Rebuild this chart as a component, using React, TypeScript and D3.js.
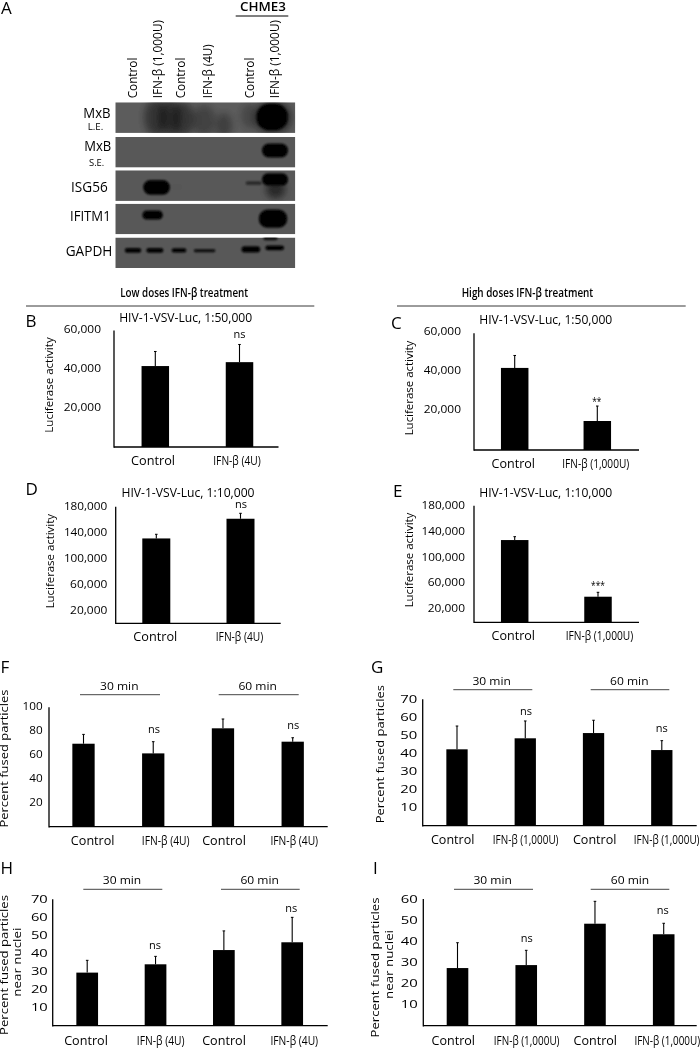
import React from "react";
import * as d3 from "d3";

// ---------- data ----------
const laneLabels = ["Control", "IFN-β (1,000U)", "Control", "IFN-β (4U)", "Control", "IFN-β (1,000U)"];
const blotRows = ["MxB L.E.", "MxB S.E.", "ISG56", "IFITM1", "GAPDH"];
// row, lane, half width (lanes), vertical centre (row fraction), half height (row fraction), darkness
const blotBands: [number, number, number, number, number, number][] = [
  [0, 0.82, 0.42, 0.5, 0.6, 0.42],
  [0, 1.3, 0.4, 0.5, 0.6, 0.42],
  [0, 1.75, 0.42, 0.55, 0.55, 0.4],
  [0, 2.5, 0.4, 0.6, 0.5, 0.28],
  [0, 3.2, 0.3, 0.75, 0.4, 0.3],
  [0, 4.1, 0.3, 0.45, 0.4, 0.22],
  [0, 4.92, 0.66, 0.5, 0.52, 0.5],
  [0, 4.9, 0.55, 0.48, 0.43, 1],
  [1, 5.0, 0.46, 0.44, 0.23, 1],
  [2, 0.83, 0.47, 0.56, 0.24, 1],
  [2, 5.02, 0.34, 0.62, 0.3, 0.55],
  [2, 5.0, 0.46, 0.3, 0.2, 1],
  [2, 4.25, 0.28, 0.42, 0.05, 0.6],
  [2, 1.55, 0.15, 0.55, 0.04, 0.12],
  [3, 0.69, 0.36, 0.37, 0.15, 1],
  [3, 4.93, 0.5, 0.49, 0.3, 1],
  [4, 0, 0.29, 0.42, 0.08, 1],
  [4, 0.77, 0.3, 0.42, 0.08, 1],
  [4, 1.62, 0.26, 0.42, 0.07, 1],
  [4, 2.52, 0.38, 0.43, 0.05, 0.9],
  [4, 4.15, 0.33, 0.39, 0.1, 1],
  [4, 4.99, 0.33, 0.34, 0.08, 1],
  [4, 4.84, 0.25, 0.03, 0.06, 0.85],
];

const bLabels = ["Control", "IFN-β (4U)"];
const bValues = [41700, 43700];
const bErrors = [49200, 52800];
const bTicks = [20000, 40000, 60000];
const bSig = ["", "ns"];

const dLabels = ["Control", "IFN-β (4U)"];
const dValues = [131000, 161400];
const dErrors = [137400, 169800];
const dTicks = [20000, 60000, 100000, 140000, 180000];
const dSig = ["", "ns"];

const cLabels = ["Control", "IFN-β (1,000U)"];
const cValues = [42200, 14900];
const cErrors = [48600, 22600];
const cTicks = [20000, 40000, 60000];
const cSig = ["", "**"];

const eLabels = ["Control", "IFN-β (1,000U)"];
const eValues = [127000, 39500];
const eErrors = [132200, 46300];
const eTicks = [20000, 60000, 100000, 140000, 180000];
const eSig = ["", "***"];

const fLabels = ["Control", "IFN-β (4U)", "Control", "IFN-β (4U)"];
const fValues = [69.5, 61.4, 82.4, 71.2];
const fErrors = [77.3, 71.2, 90.2, 74.5];
const fTicks = [20, 40, 60, 80, 100];
const fSig = ["", "ns", "", "ns"];

const gLabels = ["Control", "IFN-β (1,000U)", "Control", "IFN-β (1,000U)"];
const gValues = [42.3, 48.4, 51.3, 41.9];
const gErrors = [55.2, 58, 58.4, 47.1];
const gTicks = [10, 20, 30, 40, 50, 60, 70];
const gSig = ["", "ns", "", "ns"];

const hLabels = ["Control", "IFN-β (4U)", "Control", "IFN-β (4U)"];
const hValues = [29.4, 34, 41.9, 46.2];
const hErrors = [36.2, 38.4, 52.5, 60];
const hTicks = [10, 20, 30, 40, 50, 60, 70];
const hSig = ["", "ns", "", "ns"];

const iLabels = ["Control", "IFN-β (1,000U)", "Control", "IFN-β (1,000U)"];
const iValues = [27.3, 28.7, 48.3, 43.3];
const iErrors = [39.3, 35.7, 58.9, 48.5];
const iTicks = [10, 20, 30, 40, 50, 60];
const iSig = ["", "ns", "", "ns"];

const timeLabels = ["30 min", "60 min"];
const lumiTitle50 = "HIV-1-VSV-Luc, 1:50,000";
const lumiTitle10 = "HIV-1-VSV-Luc, 1:10,000";

// ---------- layout ----------
const FONT = "'Open Sans', sans-serif";
const INK = "#000";

type TProps = {
  x: number; y: number; size?: number; len?: number; anchor?: string; weight?: number; rot?: boolean; children: React.ReactNode;
};
function T({ x, y, size = 12, len, anchor = "middle", weight = 400, rot = false, children }: TProps) {
  return (
    <text
      x={x}
      y={y}
      fontFamily={FONT}
      fontSize={size}
      fontWeight={weight}
      fill={INK}
      textAnchor={anchor}
      textLength={len}
      lengthAdjust={len ? "spacingAndGlyphs" : undefined}
      transform={rot ? `rotate(-90 ${x} ${y})` : undefined}
    >
      {children}
    </text>
  );
}

type Panel = {
  labels: string[]; values: number[]; errors: number[]; ticks: number[]; sig: string[]; max: number;
  axisX: number; top: number; base: number; right: number; c0: number; c1: number; barW: number;
  tickRight: number; tickLen: number; tickSize: number; tickDy: number;
  labelX: number[]; labelY: number; labelLens: number[];
  sigGap: number[]; sigDx: number[];
  yTitle: { text: string; x: number; y: number; len: number }[];
  letter: { text: string; x: number; y: number };
  title?: { text: string; x: number; y: number };
  time?: { x0: number[]; x1: number[]; y: number; tx: number[]; ty: number };
};

const COMMA = d3.format(",");

function BarPanel({ p }: { p: Panel }) {
  const y = d3.scaleLinear().domain([0, p.max]).range([p.base, p.top]);
  const x = d3.scaleLinear().domain([0, p.labels.length - 1]).range([p.c0, p.c1]);
  return (
    <g>
      <T x={p.letter.x} y={p.letter.y} size={17} anchor="start">{p.letter.text}</T>
      {p.title && <T x={p.title.x} y={p.title.y} size={12.5} len={133}>{p.title.text}</T>}
      {p.time && timeLabels.map((t, i) => (
        <g key={t}>
          <line x1={p.time!.x0[i]} x2={p.time!.x1[i]} y1={p.time!.y} y2={p.time!.y} stroke="#444" strokeWidth={1} />
          <T x={p.time!.tx[i]} y={p.time!.ty} size={11} len={38.5} weight={500}>{t}</T>
        </g>
      ))}
      {p.yTitle.map((t) => <T key={t.text} x={t.x} y={t.y} size={11.5} len={t.len} weight={500} rot>{t.text}</T>)}
      {p.ticks.map((t) => (
        <T key={t} x={p.tickRight} y={y(t) + p.tickDy} size={11} weight={500} anchor="end" len={p.tickLen * String(COMMA(t)).length}>{COMMA(t)}</T>
      ))}
      {p.values.map((v, i) => {
        const cx = x(i);
        return (
          <g key={i}>
            <line x1={cx} x2={cx} y1={y(p.errors[i])} y2={y(v)} stroke="#000" strokeWidth={1.1} />
            <line x1={cx - 1.3} x2={cx + 1.3} y1={y(p.errors[i])} y2={y(p.errors[i])} stroke="#000" strokeWidth={1} />
            <rect x={cx - p.barW / 2} y={y(v)} width={p.barW} height={p.base - y(v)} fill="#000" />
            {p.sig[i] && (
              <T x={cx + p.sigDx[i]} y={y(p.errors[i]) - p.sigGap[i]} size={11} weight={500} len={p.sig[i] === "ns" ? 12 : p.sig[i].length * 4.6}>{p.sig[i]}</T>
            )}
          </g>
        );
      })}
      <line x1={p.axisX} x2={p.axisX} y1={p.top} y2={p.base + 0.7} stroke="#000" strokeWidth={1.3} />
      <line x1={p.axisX} x2={p.right} y1={p.base} y2={p.base} stroke="#000" strokeWidth={1.3} />
      {p.labels.map((l, i) => (
        <T key={i} x={p.labelX[i]} y={p.labelY} size={13.5} len={p.labelLens[i]}>{l}</T>
      ))}
    </g>
  );
}

const panels: Panel[] = [
  {
    labels: bLabels, values: bValues, errors: bErrors, ticks: bTicks, sig: bSig, max: 60000,
    axisX: 114, top: 330.5, base: 447, right: 278.5, c0: 155.3, c1: 239.5, barW: 27.5,
    tickRight: 101, tickLen: 6.2, tickSize: 10.5, tickDy: 2.5,
    labelX: [153, 237], labelY: 464.5, labelLens: [44, 47.5],
    sigGap: [0, 6.7], sigDx: [0, 0],
    yTitle: [{ text: "Luciferase activity", x: 52.7, y: 385, len: 95.3 }],
    letter: { text: "B", x: 25.5, y: 327.3 },
    title: { text: lumiTitle50, x: 185.7, y: 321.7 },
  },
  {
    labels: dLabels, values: dValues, errors: dErrors, ticks: dTicks, sig: dSig, max: 180000,
    axisX: 115.7, top: 506.7, base: 623.3, right: 280.7, c0: 156.3, c1: 240.5, barW: 28,
    tickRight: 107.3, tickLen: 6.2, tickSize: 10.5, tickDy: 3.5,
    labelX: [155.3, 239.5], labelY: 641, labelLens: [44, 47.5],
    sigGap: [0, 5], sigDx: [0, 0.5],
    yTitle: [{ text: "Luciferase activity", x: 54.3, y: 561.2, len: 94.3 }],
    letter: { text: "D", x: 25.5, y: 495 },
    title: { text: lumiTitle10, x: 188, y: 496.7 },
  },
  {
    labels: cLabels, values: cValues, errors: cErrors, ticks: cTicks, sig: cSig, max: 60000,
    axisX: 474, top: 333.3, base: 450, right: 639, c0: 514.7, c1: 597.3, barW: 27.5,
    tickRight: 461, tickLen: 6.2, tickSize: 10.5, tickDy: 1.5,
    labelX: [513.3, 595.8], labelY: 467.5, labelLens: [43.5, 67],
    sigGap: [0, 1], sigDx: [0, -0.5],
    yTitle: [{ text: "Luciferase activity", x: 412.7, y: 388, len: 94.7 }],
    letter: { text: "C", x: 391, y: 329.3 },
    title: { text: lumiTitle50, x: 545.8, y: 324.3 },
  },
  {
    labels: eLabels, values: eValues, errors: eErrors, ticks: eTicks, sig: eSig, max: 180000,
    axisX: 474, top: 505.7, base: 622.3, right: 639, c0: 514.7, c1: 598, barW: 27.5,
    tickRight: 465, tickLen: 6.2, tickSize: 10.5, tickDy: 3,
    labelX: [513.3, 599.5], labelY: 640, labelLens: [43.5, 67.5],
    sigGap: [0, 3.8], sigDx: [0, 0],
    yTitle: [{ text: "Luciferase activity", x: 413.3, y: 560, len: 94.7 }],
    letter: { text: "E", x: 393, y: 497.3 },
    title: { text: lumiTitle10, x: 545.8, y: 496.7 },
  },
  {
    labels: fLabels, values: fValues, errors: fErrors, ticks: fTicks, sig: fSig, max: 100,
    axisX: 49, top: 707.3, base: 826.7, right: 327.7, c0: 83.5, c1: 292.7, barW: 22.3,
    tickRight: 42.7, tickLen: 6.7, tickSize: 10.5, tickDy: 3,
    labelX: [92.7, 165.7, 224, 294.3], labelY: 845, labelLens: [43.7, 47.7, 43.7, 47.7],
    sigGap: [0, 9, 0, 8.7], sigDx: [0, 0.8, 0, 0.6],
    yTitle: [{ text: "Percent fused particles", x: 8, y: 758.5, len: 138 }],
    letter: { text: "F", x: 0.5, y: 672.7 },
    time: { x0: [80, 218.7], x1: [160, 298.7], y: 694.7, tx: [119.3, 257.7], ty: 690 },
  },
  {
    labels: gLabels, values: gValues, errors: gErrors, ticks: gTicks, sig: gSig, max: 70,
    axisX: 422.7, top: 699.3, base: 825.7, right: 696.7, c0: 457, c1: 661.8, barW: 21.3,
    tickRight: 417.3, tickLen: 8.5, tickSize: 10.5, tickDy: 3.5,
    labelX: [452.7, 525.7, 594.7, 666.7], labelY: 844, labelLens: [43.5, 65.7, 43.5, 65.7],
    sigGap: [0, 5.7, 0, 8.7], sigDx: [0, 0.8, 0, 0],
    yTitle: [{ text: "Percent fused particles", x: 384.3, y: 754.2, len: 138.3 }],
    letter: { text: "G", x: 371, y: 672.7 },
    time: { x0: [453.3, 590.7], x1: [532.3, 669.3], y: 689.7, tx: [491.7, 629.3], ty: 684.7 },
  },
  {
    labels: hLabels, values: hValues, errors: hErrors, ticks: hTicks, sig: hSig, max: 70,
    axisX: 52.7, top: 899.3, base: 1025.7, right: 327.7, c0: 87.2, c1: 292.2, barW: 21.7,
    tickRight: 47.7, tickLen: 8.4, tickSize: 10.5, tickDy: 3.5,
    labelX: [86, 160.7, 224, 294.3], labelY: 1045, labelLens: [43.7, 47.7, 43.7, 47.7],
    sigGap: [0, 7.7, 0, 5.3], sigDx: [0, -0.5, 0, -0.9],
    yTitle: [
      { text: "Percent fused particles", x: 8, y: 965, len: 140 },
      { text: "near nuclei", x: 20.7, y: 962.2, len: 69 },
    ],
    letter: { text: "H", x: 0.5, y: 874 },
    time: { x0: [83.3, 221], x1: [162.3, 299.7], y: 889.3, tx: [122, 259.7], ty: 884 },
  },
  {
    labels: iLabels, values: iValues, errors: iErrors, ticks: iTicks, sig: iSig, max: 60,
    axisX: 423.3, top: 899, base: 1025.7, right: 696.7, c0: 457.5, c1: 663.7, barW: 21.6,
    tickRight: 417.7, tickLen: 8.5, tickSize: 10.5, tickDy: 3.5,
    labelX: [453.3, 526.7, 595.3, 667.3], labelY: 1045, labelLens: [43.5, 65.7, 43.5, 65.7],
    sigGap: [0, 8, 0, 9.3], sigDx: [0, 0.5, 0, -1],
    yTitle: [
      { text: "Percent fused particles", x: 379.3, y: 967.5, len: 140 },
      { text: "near nuclei", x: 393.3, y: 964.5, len: 69 },
    ],
    letter: { text: "I", x: 373, y: 874 },
    time: { x0: [454, 590.7], x1: [533, 669.3], y: 889.3, tx: [492.7, 630], ty: 884 },
  },
];

// blot geometry
const rowTops = [102.3, 137, 170.3, 203.7, 237.5];
const rowH = 30.6;
const laneX = d3.scaleLinear().domain([0, 5]).range([133, 275]);
const laneBase = [137.3, 162.3, 185, 212, 254.3, 279.3];
const laneLens = [40.7, 78.3, 40.7, 54, 40.7, 78.3];

const rowTexts = [
  { t: "MxB", x: 83.3, y: 118.3, s: 15, len: 27.3 },
  { t: "L.E.", x: 87.7, y: 130, s: 9, len: 15.6 },
  { t: "MxB", x: 84.3, y: 150.7, s: 15, len: 27 },
  { t: "S.E.", x: 89, y: 165.7, s: 9, len: 15.3 },
  { t: "ISG56", x: 71, y: 191.7, s: 15, len: 36.7 },
  { t: "IFITM1", x: 70, y: 221, s: 15, len: 40.7 },
  { t: "GAPDH", x: 65.7, y: 255.7, s: 15, len: 46.6 },
];

function Blot() {
  const k = rowH;
  const laneW = laneX(1) - laneX(0);
  return (
    <g>
      <defs>
        <filter id="b1" x="-40%" y="-80%" width="180%" height="260%"><feGaussianBlur stdDeviation="0.9" /></filter>
        <filter id="b3" x="-40%" y="-60%" width="180%" height="220%"><feGaussianBlur stdDeviation="3.5" /></filter>
        {blotRows.map((r, i) => (
          <clipPath id={`row${i}`} key={r}><rect x={115.3} y={rowTops[i]} width={180} height={rowH} /></clipPath>
        ))}
      </defs>
      <T x={1} y={13.5} size={17} anchor="start">A</T>
      <T x={263} y={10.7} size={13} len={46} weight={600}>CHME3</T>
      <line x1={235.7} x2={288.3} y1={16} y2={16} stroke="#000" strokeWidth={1} />
      {laneLabels.map((l, i) => (
        <T key={i} x={laneBase[i]} y={98.3} size={12.5} anchor="start" len={laneLens[i]} rot>{l}</T>
      ))}
      {rowTexts.map((r, i) => <T key={i} x={r.x} y={r.y} size={r.s} anchor="start" len={r.len}>{r.t}</T>)}
      {blotRows.map((r, i) => (
        <g key={r} clipPath={`url(#row${i})`}>
          <rect x={115.3} y={rowTops[i]} width={180} height={rowH} fill={i === 0 ? "#5c5c5c" : "#595959"} />
          {blotBands.filter((b) => b[0] === i).map((b, j) => {
            const soft = b[5] < 0.6;
            const rx = b[2] * laneW;
            const ry = b[4] * k;
            return (
              <rect
                key={j}
                x={laneX(b[1]) - rx}
                y={rowTops[i] + b[3] * k - ry}
                width={2 * rx}
                height={2 * ry}
                rx={Math.min(rx, ry * 0.95)}
                ry={ry * 0.95}
                fill="#000"
                opacity={b[5]}
                filter={soft ? "url(#b3)" : "url(#b1)"}
              />
            );
          })}
        </g>
      ))}
    </g>
  );
}

export default function App() {
  return (
    <svg width={700} height={1049} viewBox="0 0 700 1049" style={{ position: "absolute", left: 0, top: 0, background: "#fff" }}>
      <defs>
        <filter id="soft" x="0" y="0" width="100%" height="100%" filterUnits="userSpaceOnUse"><feGaussianBlur stdDeviation="0.35" /></filter>
      </defs>
      <g filter="url(#soft)">
        <rect x={0} y={0} width={700} height={1049} fill="#fff" />
        <Blot />
        <T x={184.2} y={297.3} size={13} len={128} weight={600}>Low doses IFN-β treatment</T>
        <line x1={26} x2={314.3} y1={306} y2={306} stroke="#222" strokeWidth={0.9} />
        <T x={527.5} y={297.3} size={13} len={131.6} weight={600}>High doses IFN-β treatment</T>
        <line x1={397} x2={685.7} y1={306} y2={306} stroke="#222" strokeWidth={0.9} />
        {panels.map((p) => <BarPanel key={p.letter.text} p={p} />)}
      </g>
    </svg>
  );
}
